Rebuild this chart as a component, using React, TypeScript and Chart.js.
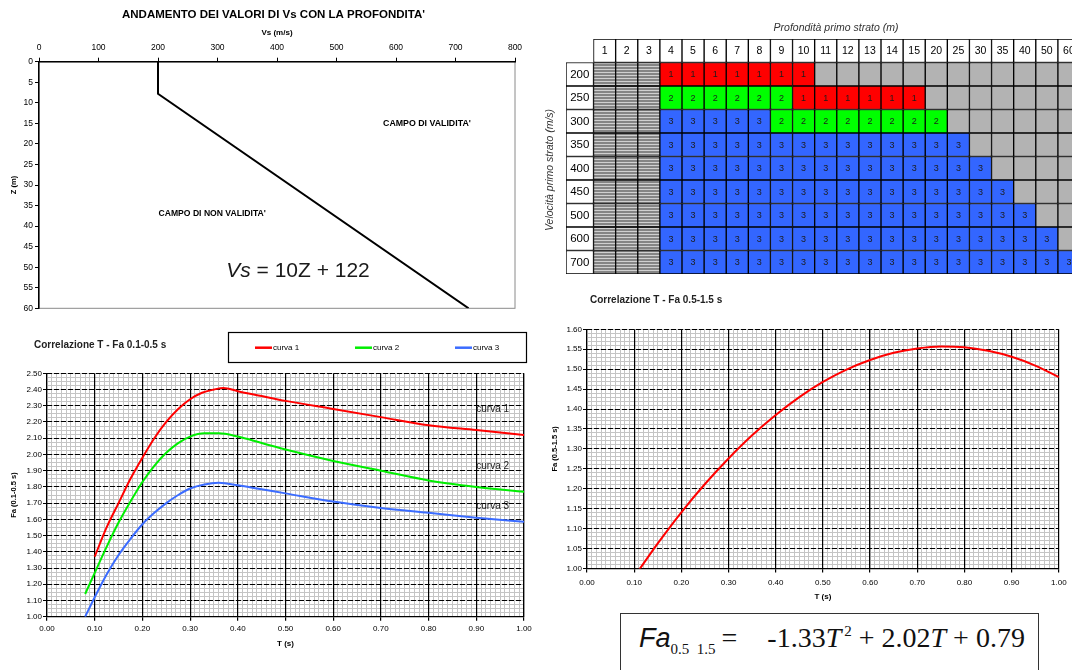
import React, { useEffect, useRef } from 'react';
import { Chart, registerables } from 'chart.js';

Chart.register(...registerables);
Chart.defaults.font.family = "'Liberation Sans', Arial, sans-serif";
Chart.defaults.color = '#000';

// ---------- Panel 1: Vs vs depth ----------
const profileVs = [200, 200, 722];
const profileZ = [0, 7.8, 60];

// ---------- Panel 2: table of curves ----------
const depthLabels = ['1', '2', '3', '4', '5', '6', '7', '8', '9', '10', '11', '12', '13', '14', '15', '20', '25', '30', '35', '40', '50', '60'];
const velocityLabels = ['200', '250', '300', '350', '400', '450', '500', '600', '700'];
// run-length coded rows: h = hatched (not applicable), g = grey, 1/2/3 = curve number
const tableRuns: [string, number][][] = [
  [['h', 3], ['1', 7], ['g', 12]],
  [['h', 3], ['2', 6], ['1', 6], ['g', 7]],
  [['h', 3], ['3', 5], ['2', 8], ['g', 6]],
  [['h', 3], ['3', 14], ['g', 5]],
  [['h', 3], ['3', 15], ['g', 4]],
  [['h', 3], ['3', 16], ['g', 3]],
  [['h', 3], ['3', 17], ['g', 2]],
  [['h', 3], ['3', 18], ['g', 1]],
  [['h', 3], ['3', 19]],
];
const codeColors: Record<string, string> = { '1': '#ff0000', '2': '#00ff00', '3': '#3366ff', g: '#b3b3b3' };
const ROW_LABEL_SPAN = 1.245;

// ---------- Panel 3: Fa 0.1-0.5 s ----------
const curve1T = [0.10, 0.125, 0.15, 0.175, 0.20, 0.225, 0.25, 0.275, 0.30, 0.325, 0.35, 0.37, 0.40, 0.45, 0.50, 0.60, 0.70, 0.80, 0.90, 1.00];
const curve1Fa = [1.37, 1.55, 1.70, 1.85, 1.98, 2.10, 2.20, 2.28, 2.34, 2.38, 2.40, 2.41, 2.39, 2.36, 2.33, 2.28, 2.23, 2.18, 2.15, 2.12];
const curve2T = [0.08, 0.10, 0.125, 0.15, 0.175, 0.20, 0.225, 0.25, 0.275, 0.30, 0.33, 0.36, 0.40, 0.45, 0.50, 0.60, 0.70, 0.80, 0.90, 1.00];
const curve2Fa = [1.14, 1.27, 1.43, 1.58, 1.71, 1.83, 1.93, 2.01, 2.07, 2.11, 2.13, 2.13, 2.11, 2.07, 2.03, 1.96, 1.90, 1.84, 1.80, 1.77];
const curve3T = [0.08, 0.10, 0.125, 0.15, 0.175, 0.20, 0.225, 0.25, 0.275, 0.30, 0.33, 0.36, 0.40, 0.45, 0.50, 0.60, 0.70, 0.80, 0.90, 1.00];
const curve3Fa = [1.00, 1.12, 1.26, 1.38, 1.48, 1.57, 1.64, 1.70, 1.75, 1.79, 1.815, 1.825, 1.81, 1.785, 1.76, 1.71, 1.67, 1.64, 1.61, 1.585];
const curveNames = ['curva 1', 'curva 2', 'curva 3'];
const curveColors = ['#ff0000', '#00ee00', '#3b6cff'];
const curveLabelFa = [2.28, 1.925, 1.68];

// ---------- Panel 4: Fa 0.5-1.5 s ----------
const longT = [0.11, 0.15, 0.20, 0.25, 0.30, 0.35, 0.40, 0.45, 0.50, 0.55, 0.60, 0.65, 0.70, 0.75, 0.80, 0.85, 0.90, 0.95, 1.00];
const longFa = [0.996, 1.063, 1.141, 1.212, 1.276, 1.334, 1.385, 1.430, 1.468, 1.499, 1.523, 1.541, 1.552, 1.557, 1.555, 1.546, 1.531, 1.509, 1.480];

type Txt = { text: string; x: number; y: number; font: string; color?: string; align?: CanvasTextAlign; rotate?: number; sx?: string; sy?: string };

function textPlugin(id: string, items: Txt[]) {
  return {
    id,
    afterDraw(chart: any) {
      const ctx = chart.ctx as CanvasRenderingContext2D;
      for (const it of items) {
        const x = it.sx ? chart.scales[it.sx].getPixelForValue(it.x) : it.x;
        const y = it.sy ? chart.scales[it.sy].getPixelForValue(it.y) : it.y;
        ctx.save();
        ctx.translate(x, y);
        if (it.rotate) ctx.rotate(it.rotate);
        ctx.font = it.font;
        ctx.fillStyle = it.color || '#000';
        ctx.textAlign = it.align || 'center';
        ctx.textBaseline = 'middle';
        ctx.fillText(it.text, 0, 0);
        ctx.restore();
      }
    },
  };
}

const FONT = "'Liberation Sans', Arial, sans-serif";

function makeFaChart(canvas: HTMLCanvasElement, cfg: any) {
  return new Chart(canvas, {
    type: 'line',
    data: { datasets: cfg.datasets },
    options: {
      animation: false,
      responsive: false,
      maintainAspectRatio: false,
      events: [],
      layout: { padding: cfg.padding },
      plugins: { legend: { display: false }, tooltip: { enabled: false } },
      scales: {
        x: {
          type: 'linear', axis: 'x', position: 'bottom', min: 0, max: 1,
          ticks: { stepSize: 0.1, font: { size: 8 }, padding: cfg.xLabelPad, callback: (v: any) => Number(v).toFixed(2) },
          grid: { color: '#000', lineWidth: 1.2, tickLength: 4 },
          border: { display: true, color: '#000', width: 1.2 },
          title: { display: true, text: 'T (s)', font: { size: 8, weight: 'bold' }, padding: { top: 0, bottom: 0 } },
          afterFit: (s: any) => { s.height = cfg.xHeight; },
        },
        y: {
          type: 'linear', axis: 'y', position: 'left', min: cfg.yMin, max: cfg.yMax,
          ticks: { stepSize: cfg.yStep, font: { size: 8 }, padding: 1, callback: (v: any) => Number(v).toFixed(2) },
          grid: { color: '#000', lineWidth: 1, tickLength: 4 },
          border: { display: false, dash: [5, 2] },
          title: { display: true, text: cfg.yTitle, font: { size: 7.5, weight: 'bold' }, padding: { top: cfg.yTitlePad, bottom: 0 } },
          afterFit: (s: any) => { s.width = 41; },
        },
        xMinor: {
          type: 'linear', axis: 'x', position: 'bottom', min: 0, max: 1,
          ticks: { display: false, stepSize: 0.01, maxTicksLimit: 1000 },
          grid: { color: '#c4c4c4', lineWidth: 1, drawTicks: false, z: -2 },
          border: { display: false },
          afterFit: (s: any) => { s.height = 0; },
        },
        yMinor: {
          type: 'linear', axis: 'y', position: 'left', min: cfg.yMin, max: cfg.yMax,
          ticks: { display: false, stepSize: cfg.yMinorStep, maxTicksLimit: 1000 },
          grid: { color: '#c4c4c4', lineWidth: 1, drawTicks: false, z: -2 },
          border: { display: false },
          afterFit: (s: any) => { s.width = 0; },
        },
      },
    } as any,
    plugins: cfg.plugins,
  });
}

export default function App() {
  const r1 = useRef<HTMLCanvasElement>(null);
  const r2 = useRef<HTMLCanvasElement>(null);
  const r3 = useRef<HTMLCanvasElement>(null);
  const r4 = useRef<HTMLCanvasElement>(null);

  useEffect(() => {
    const charts: Chart[] = [];

    // ---------- Panel 1 ----------
    const framePlugin = {
      id: 'frame',
      beforeDraw(chart: any) {
        const { ctx, chartArea: a } = chart;
        ctx.save();
        ctx.strokeStyle = '#8a8a8a';
        ctx.lineWidth = 1;
        ctx.strokeRect(a.left, a.top, a.right - a.left, a.bottom - a.top);
        ctx.restore();
      },
    };
    const eqPlugin = {
      id: 'eqVs',
      afterDraw(chart: any) {
        const ctx = chart.ctx as CanvasRenderingContext2D;
        const parts = [
          { t: 'Vs', f: `italic 21px ${FONT}` },
          { t: ' = 10Z + 122', f: `21px ${FONT}` },
        ];
        ctx.save();
        ctx.fillStyle = '#1a1a1a';
        ctx.textBaseline = 'middle';
        ctx.textAlign = 'left';
        let total = 0;
        parts.forEach((p) => { ctx.font = p.f; total += ctx.measureText(p.t).width; });
        let x = 298 - total / 2;
        parts.forEach((p) => { ctx.font = p.f; ctx.fillText(p.t, x, 271.5); x += ctx.measureText(p.t).width; });
        ctx.restore();
      },
    };
    charts.push(new Chart(r1.current!, {
      type: 'line',
      data: {
        datasets: [{
          label: 'Vs',
          data: profileVs.map((v, i) => ({ x: v, y: profileZ[i] })),
          borderColor: '#000', borderWidth: 2, pointRadius: 0, tension: 0,
        }],
      },
      options: {
        animation: false, responsive: false, maintainAspectRatio: false, events: [],
        layout: { padding: { left: 8, top: 24, right: 25, bottom: 11.7 } },
        plugins: { legend: { display: false }, tooltip: { enabled: false } },
        scales: {
          x: {
            type: 'linear', position: 'top', min: 0, max: 800,
            ticks: { stepSize: 100, font: { size: 8.5 }, padding: 5 },
            grid: { drawOnChartArea: false, tickLength: 4, color: '#000' },
            border: { color: '#000', width: 1.5 },
            title: { display: true, text: 'Vs (m/s)', font: { size: 8, weight: 'bold' }, padding: { top: 4, bottom: 0 } },
            afterFit: (s: any) => { s.height = 37.7; },
          },
          y: {
            type: 'linear', reverse: true, min: 0, max: 60,
            ticks: { stepSize: 5, font: { size: 8.5 }, padding: 2 },
            grid: { drawOnChartArea: false, tickLength: 4, color: '#000' },
            border: { color: '#000', width: 1.5 },
            title: { display: true, text: 'Z (m)', font: { size: 7.5, weight: 'bold' }, padding: { top: 1.5, bottom: 0 } },
            afterFit: (s: any) => { s.width = 31; },
          },
        },
      } as any,
      plugins: [
        framePlugin,
        eqPlugin,
        textPlugin('t1', [
          { text: "ANDAMENTO DEI VALORI DI Vs CON LA PROFONDITA'", x: 273.5, y: 15, font: `bold 11.5px ${FONT}` },
          { text: "CAMPO DI VALIDITA'", x: 652, y: 15, sx: 'x', sy: 'y', font: `bold 8.8px ${FONT}` },
          { text: "CAMPO DI NON VALIDITA'", x: 291, y: 36.9, sx: 'x', sy: 'y', font: `bold 8.6px ${FONT}` },
        ]),
      ],
    }));

    // ---------- Panel 2: table ----------
    const c2 = r2.current!;
    const pc = document.createElement('canvas');
    pc.width = 4; pc.height = 3;
    const pg = pc.getContext('2d')!;
    pg.fillStyle = '#858585'; pg.fillRect(0, 0, 4, 3);
    pg.fillStyle = '#d0d0d0'; pg.fillRect(0, 0, 4, 1);
    const hatch = c2.getContext('2d')!.createPattern(pc, 'repeat')!;

    const codes = tableRuns.map((runs) => {
      const out: string[] = [];
      runs.forEach(([c, n]) => { for (let i = 0; i < n; i++) out.push(c); });
      return out;
    });
    const rowLabels = ['', ...velocityLabels];
    const colLabels = ['', ...depthLabels];
    const cellKind = (r: number, c: number) =>
      r === 0 ? (c === 0 ? 'none' : 'head') : (c === 0 ? 'label' : codes[r - 1][c - 1]);
    const cellFill = (k: string): any =>
      k === 'none' ? 'rgba(0,0,0,0)' : k === 'head' || k === 'label' ? '#ffffff' : k === 'h' ? hatch : codeColors[k];
    const cellText = (r: number, c: number) => {
      const k = cellKind(r, c);
      if (k === 'head') return colLabels[c];
      if (k === 'label') return rowLabels[r];
      if (k === '1' || k === '2' || k === '3') return k;
      return '';
    };
    const tableTextPlugin = {
      id: 'cellText',
      afterDatasetsDraw(chart: any) {
        const ctx = chart.ctx as CanvasRenderingContext2D;
        ctx.save();
        ctx.textAlign = 'center';
        ctx.textBaseline = 'middle';
        chart.data.datasets.forEach((_: any, c: number) => {
          const meta = chart.getDatasetMeta(c);
          meta.data.forEach((el: any, r: number) => {
            const t = cellText(r, c);
            if (!t) return;
            const k = cellKind(r, c);
            ctx.font = k === 'head' ? `10.5px ${FONT}` : k === 'label' ? `11.5px ${FONT}` : `9px ${FONT}`;
            ctx.fillStyle = k === 'head' || k === 'label' ? '#000' : '#1c1c1c';
            ctx.fillText(t, (el.x + el.base) / 2, el.y + 0.5);
          });
        });
        ctx.restore();
      },
    };
    charts.push(new Chart(c2, {
      type: 'bar',
      data: {
        labels: rowLabels,
        datasets: colLabels.map((col, c) => ({
          label: col || 'Vs',
          data: rowLabels.map(() => (c === 0 ? ROW_LABEL_SPAN : 1)),
          backgroundColor: rowLabels.map((_, r) => cellFill(cellKind(r, c))),
          borderColor: '#000',
          borderWidth: rowLabels.map((_, r) => (cellKind(r, c) === 'none' ? 0 : 1)),
          borderSkipped: false,
          barPercentage: 1,
          categoryPercentage: 1,
        })),
      },
      options: {
        indexAxis: 'y',
        animation: false, responsive: false, maintainAspectRatio: false, events: [],
        layout: { padding: { left: 31, top: 39, right: 15, bottom: 16 } },
        plugins: { legend: { display: false }, tooltip: { enabled: false } },
        scales: {
          x: { stacked: true, display: false, min: 0, max: ROW_LABEL_SPAN + depthLabels.length },
          y: { stacked: true, display: false },
        },
      } as any,
      plugins: [
        tableTextPlugin,
        textPlugin('t2', [
          { text: 'Profondità primo strato (m)', x: 301, y: 28, font: `italic 10.5px ${FONT}`, color: '#333' },
          { text: 'Velocità primo strato (m/s)', x: 15.5, y: 170, rotate: -Math.PI / 2, font: `italic 10.5px ${FONT}`, color: '#333' },
        ]),
      ],
    }));

    // ---------- Panel 3 ----------
    const shortT = [curve1T, curve2T, curve3T];
    const shortFa = [curve1Fa, curve2Fa, curve3Fa];
    const legendPlugin = {
      id: 'boxLegend',
      afterDraw(chart: any) {
        const ctx = chart.ctx as CanvasRenderingContext2D;
        ctx.save();
        ctx.strokeStyle = '#000';
        ctx.lineWidth = 1.2;
        ctx.strokeRect(228.5, 12.5, 298, 30);
        const xs = [255, 355, 455];
        chart.data.datasets.forEach((ds: any, i: number) => {
          ctx.strokeStyle = ds.borderColor;
          ctx.lineWidth = 2.5;
          ctx.beginPath();
          ctx.moveTo(xs[i], 27.7);
          ctx.lineTo(xs[i] + 17, 27.7);
          ctx.stroke();
          ctx.fillStyle = '#000';
          ctx.font = `8px ${FONT}`;
          ctx.textAlign = 'left';
          ctx.textBaseline = 'middle';
          ctx.fillText(ds.label, xs[i] + 18, 27.7);
        });
        ctx.restore();
      },
    };
    charts.push(makeFaChart(r3.current!, {
      datasets: curveNames.map((name, i) => ({
        label: name,
        data: shortT[i].map((t, j) => ({ x: t, y: shortFa[i][j] })),
        borderColor: curveColors[i], borderWidth: 2, pointRadius: 0, cubicInterpolationMode: 'monotone',
      })),
      padding: { left: 6, top: 53.3, right: 16, bottom: 21 },
      xLabelPad: 2.8, xHeight: 32.3,
      yMin: 1, yMax: 2.5, yStep: 0.1, yMinorStep: 0.025,
      yTitle: 'Fa (0.1-0.5 s)', yTitlePad: 3.5,
      plugins: [
        legendPlugin,
        textPlugin('t3', [
          { text: 'Correlazione T - Fa 0.1-0.5 s', x: 34, y: 25, align: 'left', font: `bold 10px ${FONT}`, color: '#222' },
          ...curveNames.map((n, i) => ({ text: n, x: 0.9, y: curveLabelFa[i], sx: 'x', sy: 'y', align: 'left' as CanvasTextAlign, font: `10px ${FONT}`, color: '#222' })),
        ]),
      ],
    }));

    // ---------- Panel 4 ----------
    charts.push(makeFaChart(r4.current!, {
      datasets: [{
        label: 'Fa 0.5-1.5 s',
        data: longT.map((t, j) => ({ x: t, y: longFa[j] })),
        borderColor: '#ff0000', borderWidth: 2, pointRadius: 0, cubicInterpolationMode: 'monotone',
      }],
      padding: { left: 6, top: 49.3, right: 10, bottom: 68.5 },
      xLabelPad: 5.4, xHeight: 33,
      yMin: 1, yMax: 1.6, yStep: 0.05, yMinorStep: 0.01,
      yTitle: 'Fa (0.5-1.5 s)', yTitlePad: 4.8,
      plugins: [
        textPlugin('t4', [
          { text: 'Correlazione T - Fa 0.5-1.5 s', x: 50, y: 20, align: 'left', font: `bold 10px ${FONT}`, color: '#222' },
        ]),
      ],
    }));

    return () => { charts.forEach((c) => c.destroy()); };
  }, []);

  const abs = (l: number, t: number, w: number, h: number): React.CSSProperties => ({
    position: 'absolute', left: l, top: t, width: w, height: h, display: 'block',
  });

  return (
    <div style={{ position: 'fixed', left: 0, top: 0, width: 1072, height: 670, overflow: 'hidden', background: '#fff' }}>
      <canvas ref={r1} width={540} height={320} style={abs(0, 0, 540, 320)} />
      <canvas ref={r2} width={560} height={290} style={abs(535, 0, 560, 290)} />
      <canvas ref={r3} width={540} height={350} style={abs(0, 320, 540, 350)} />
      <canvas ref={r4} width={532} height={390} style={abs(540, 280, 532, 390)} />
      <div style={{ position: 'absolute', left: 620, top: 613, width: 419, height: 90, border: '1px solid #333', boxSizing: 'border-box', background: '#fff' }}>
        <div style={{ position: 'absolute', left: 18, top: 8, whiteSpace: 'nowrap', fontFamily: "'Liberation Serif', serif", fontSize: 28, lineHeight: '32px', color: '#111' }}>
          <span style={{ fontFamily: FONT, fontStyle: 'italic', fontSize: 27 }}>Fa</span>
          <span style={{ fontSize: 15, position: 'relative', top: 7 }}>0.5&nbsp;&nbsp;1.5</span>
          <span style={{ marginLeft: 6 }}>=</span>
          <span style={{ marginLeft: 30 }}>
            -1.33<i>T</i><span style={{ fontSize: 15, position: 'relative', top: -11, marginLeft: 3 }}>2</span> + 2.02<i>T</i> + 0.79
          </span>
        </div>
      </div>
    </div>
  );
}
